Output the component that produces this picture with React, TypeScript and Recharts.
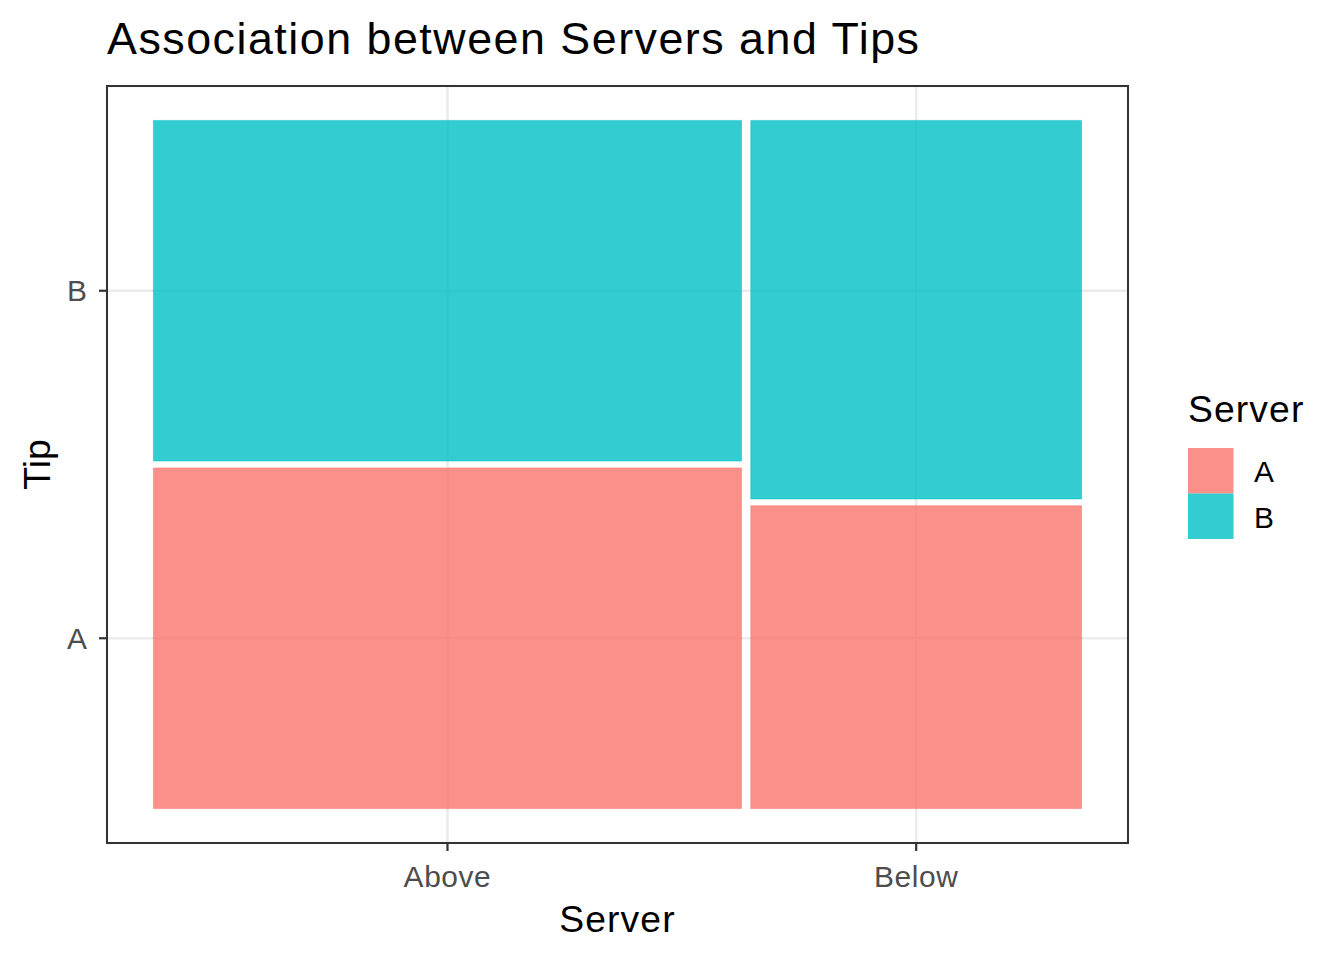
import {
  ComposedChart,
  XAxis,
  YAxis,
  CartesianGrid,
  ReferenceArea,
  Legend
} from "recharts";

// counts
const servers = ["Above", "Below"];
const tips = ["A", "B"];
const countsA = [32, 16];
const countsB = [32, 20];

const tipColors = ["#F8766D", "#00BFC4"];
const OFFSET = 0.01;
const FONT = '"Liberation Sans", Arial, sans-serif';

const total = countsA.reduce((s, v) => s + v, 0) + countsB.reduce((s, v) => s + v, 0);
const span = 1 + OFFSET * (servers.length - 1);
const pad = span * 0.05;
const domain: [number, number] = [-pad, span + pad];

type Cell = { server: string; tip: string; x1: number; x2: number; y1: number; y2: number; color: string };

const cells: Cell[] = [];
const xTicks: number[] = [];
const yTicks: number[] = [];
let xStart = 0;
servers.forEach((server, i) => {
  const colTotal = countsA[i] + countsB[i];
  const w = colTotal / total;
  const shares = [countsA[i] / colTotal, countsB[i] / colTotal];
  let yStart = 0;
  tips.forEach((tip, j) => {
    const h = shares[j];
    cells.push({ server, tip, x1: xStart, x2: xStart + w, y1: yStart, y2: yStart + h, color: tipColors[j] });
    if (i === 0) yTicks.push(yStart + h / 2);
    yStart += h + OFFSET;
  });
  xTicks.push(xStart + w / 2);
  xStart += w + OFFSET;
});

const xLabel = (v: number) => servers[xTicks.indexOf(v)] ?? "";
const yLabel = (v: number) => tips[yTicks.indexOf(v)] ?? "";

function LegendBox() {
  return (
    <svg width={174} height={170} style={{ display: "block", overflow: "visible" }}>
      <text x={18} y={42} fontSize={37.3} fontFamily={FONT} fill="#000" letterSpacing={1.1}>
        Server
      </text>
      {tips.map((t, j) => (
        <g key={t}>
          <rect x={18} y={68 + j * 45.5} width={45.5} height={45.5} fill={tipColors[j]} fillOpacity={0.8} />
          <text x={84} y={102 + j * 46} fontSize={29.9} fontFamily={FONT} fill="#000">
            {t}
          </text>
        </g>
      ))}
    </svg>
  );
}

export default function App() {
  return (
    <div style={{ position: "absolute", left: 0, top: 0, width: 1344, height: 960, background: "#fff" }}>
      <div
        style={{
          position: "absolute",
          left: 107,
          top: 16,
          fontFamily: FONT,
          fontSize: 44.8,
          lineHeight: 1,
          letterSpacing: 1.5,
          color: "#000",
          whiteSpace: "nowrap"
        }}
      >
        Association between Servers and Tips
      </div>
      <ComposedChart
        width={1344}
        height={960}
        margin={{ top: 86, right: 216, left: 0, bottom: 0 }}
        style={{ fontFamily: FONT }}
      >
        <CartesianGrid stroke="#EBEBEB" strokeWidth={2.5} />
        <XAxis
          type="number"
          dataKey="x"
          domain={domain}
          allowDataOverflow
          ticks={xTicks}
          interval={0}
          tickFormatter={xLabel}
          height={117}
          axisLine={false}
          tickSize={8}
          tickMargin={15}
          tickLine={{ stroke: "#333333", strokeWidth: 2.2 }}
          tick={{ fill: "#4D4D4D", fontSize: 29.9, fontFamily: FONT, letterSpacing: 0.6 }}
          label={({ viewBox }: any) => (
            <text
              x={viewBox.x + viewBox.width / 2}
              y={932}
              textAnchor="middle"
              fontSize={37.3}
              fontFamily={FONT}
              letterSpacing={1.1}
              fill="#000"
            >
              Server
            </text>
          )}
        />
        <YAxis
          type="number"
          dataKey="y"
          domain={domain}
          allowDataOverflow
          ticks={yTicks}
          interval={0}
          tickFormatter={yLabel}
          width={107}
          axisLine={false}
          tickSize={8}
          tickMargin={12}
          tickLine={{ stroke: "#333333", strokeWidth: 2.2 }}
          tick={{ fill: "#4D4D4D", fontSize: 29.9, fontFamily: FONT }}
          label={({ viewBox }: any) => {
            const cy = viewBox.y + viewBox.height / 2;
            return (
              <text
                x={50}
                y={cy}
                transform={`rotate(-90, 50, ${cy})`}
                textAnchor="middle"
                fontSize={37.3}
                fontFamily={FONT}
                fill="#000"
              >
                Tip
              </text>
            );
          }}
        />
        {cells.map((c) => (
          <ReferenceArea
            key={`${c.server}-${c.tip}`}
            x1={c.x1}
            x2={c.x2}
            y1={c.y1}
            y2={c.y2}
            fill={c.color}
            fillOpacity={0.8}
            stroke={c.color}
            strokeOpacity={0.5}
            strokeWidth={1}
            ifOverflow="visible"
          />
        ))}
        <ReferenceArea
          x1={domain[0]}
          x2={domain[1]}
          y1={domain[0]}
          y2={domain[1]}
          fill="none"
          stroke="#333333"
          strokeWidth={2}
          ifOverflow="visible"
        />
        <Legend
          layout="horizontal"
          verticalAlign="middle"
          align="center"
          content={() => <LegendBox />}
          wrapperStyle={{ position: "absolute", left: 1170, top: 380, width: 174, height: 170 }}
        />
      </ComposedChart>
    </div>
  );
}
